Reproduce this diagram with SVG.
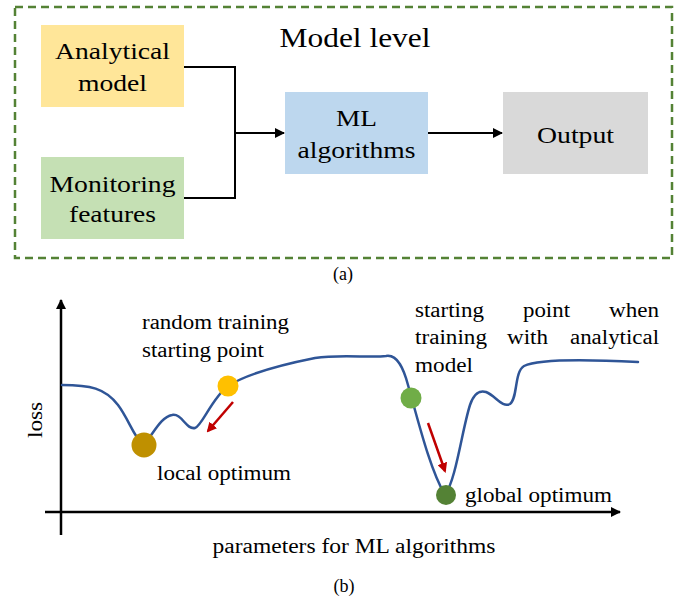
<svg xmlns="http://www.w3.org/2000/svg" width="686" height="602" viewBox="0 0 686 602">
  <style>
    text { font-family: 'Liberation Serif', Tinos, 'Nimbus Roman', 'Nimbus Roman No9 L', 'Times New Roman', Times, FreeSerif, 'Noto Serif', serif; fill: #000; }
    .box { font-size: 24px; text-anchor: middle; }
    .lbl { font-size: 20px; }
    .wire { fill: none; stroke: #000; stroke-width: 2; }
    .axis { fill: none; stroke: #000; stroke-width: 2.5; }
    .descent { fill: none; stroke: #C00000; stroke-width: 2.5; }
  </style>
  <defs>
    <marker id="arr" viewBox="0 0 10 10" refX="9" refY="5" markerWidth="5" markerHeight="5" orient="auto" markerUnits="strokeWidth">
      <path d="M0,0 L10,5 L0,10 z" fill="#000"/>
    </marker>
    <marker id="axarr" viewBox="0 0 10 10" refX="9" refY="5" markerWidth="4" markerHeight="4" orient="auto" markerUnits="strokeWidth">
      <path d="M0,0 L10,5 L0,10 z" fill="#000"/>
    </marker>
    <marker id="redarr" viewBox="0 0 10 10" refX="8" refY="5" markerWidth="4" markerHeight="4" orient="auto" markerUnits="strokeWidth">
      <path d="M0,0 L10,5 L0,10 z" fill="#C00000"/>
    </marker>
  </defs>

  <!-- (a) model-level pipeline -->
  <rect x="15" y="7" width="657" height="251" fill="none" stroke="#548235" stroke-width="2.5" stroke-dasharray="8 5"/>
  <text x="355" y="47" font-size="27" text-anchor="middle" textLength="151" lengthAdjust="spacingAndGlyphs">Model level</text>

  <g id="analytical-model">
    <rect x="41" y="25" width="143" height="82" fill="#FFE699"/>
    <text class="box" x="112.5" y="59" textLength="115" lengthAdjust="spacingAndGlyphs">Analytical</text>
    <text class="box" x="112.5" y="91" textLength="69" lengthAdjust="spacingAndGlyphs">model</text>
  </g>
  <g id="monitoring-features">
    <rect x="41" y="157" width="143" height="82" fill="#C5E0B4"/>
    <text class="box" x="112.5" y="192" textLength="126" lengthAdjust="spacingAndGlyphs">Monitoring</text>
    <text class="box" x="112.5" y="222" textLength="87" lengthAdjust="spacingAndGlyphs">features</text>
  </g>
  <g id="ml-algorithms">
    <rect x="285" y="92" width="143" height="82" fill="#BDD7EE"/>
    <text class="box" x="356.5" y="126" textLength="41" lengthAdjust="spacingAndGlyphs">ML</text>
    <text class="box" x="356.5" y="158" textLength="118" lengthAdjust="spacingAndGlyphs">algorithms</text>
  </g>
  <g id="output">
    <rect x="503" y="92" width="145" height="82" fill="#D9D9D9"/>
    <text class="box" x="575.5" y="143" textLength="77" lengthAdjust="spacingAndGlyphs">Output</text>
  </g>

  <g id="connectors">
    <path class="wire" d="M184,67 H235 V198 H184"/>
    <path class="wire" d="M235,133 H284" marker-end="url(#arr)"/>
    <path class="wire" d="M428,133 H502" marker-end="url(#arr)"/>
  </g>

  <text x="343" y="280" font-size="18" text-anchor="middle">(a)</text>

  <!-- (b) loss landscape -->
  <g id="axes">
    <path class="axis" d="M61,535 V300" marker-end="url(#axarr)"/>
    <path class="axis" d="M45,512 H620" marker-end="url(#axarr)"/>
  </g>
  <text class="lbl" transform="translate(42,420) rotate(-90)" text-anchor="middle" textLength="36" lengthAdjust="spacingAndGlyphs">loss</text>
  <text class="lbl" x="354" y="553" text-anchor="middle" textLength="283" lengthAdjust="spacingAndGlyphs">parameters for ML algorithms</text>
  <text x="344" y="592" font-size="18" text-anchor="middle">(b)</text>

  <g id="loss-curve">
    <path fill="none" stroke="#2F5597" stroke-width="2.5" stroke-linecap="round"
      d="M62,385 C90,385 105,388 118,405 C128,418 134,437 143,445
         C152,437 160,417 172,415 C182,413 186,430 195,428
         C202,426 212,398 228,386
         C245,375 280,365 315,358 C340,354 370,358 386,356
         C398,354 404,370 408,385
         C418,420 430,470 445,495
         C456,480 462,430 470,405 C474,393 480,390 486,392
         C496,396 502,408 510,404 C518,398 514,372 524,366
         C540,358 600,360 638,362"/>
  </g>

  <g id="random-start">
    <circle cx="228" cy="386" r="10.5" fill="#FFC000"/>
    <text class="lbl" x="142" y="329" textLength="147" lengthAdjust="spacingAndGlyphs">random training</text>
    <text class="lbl" x="142" y="357" textLength="122" lengthAdjust="spacingAndGlyphs">starting point</text>
  </g>
  <g id="local-optimum">
    <circle cx="144" cy="445" r="12.5" fill="#BF9000"/>
    <text class="lbl" x="157" y="480" textLength="134" lengthAdjust="spacingAndGlyphs">local optimum</text>
  </g>
  <g id="analytical-start">
    <circle cx="411" cy="398" r="10.5" fill="#70AD47"/>
    <text class="lbl" x="415" y="317" textLength="69" lengthAdjust="spacingAndGlyphs">starting</text>
    <text class="lbl" x="523" y="317" textLength="47" lengthAdjust="spacingAndGlyphs">point</text>
    <text class="lbl" x="659" y="317" text-anchor="end" textLength="50" lengthAdjust="spacingAndGlyphs">when</text>
    <text class="lbl" x="415" y="344" textLength="72" lengthAdjust="spacingAndGlyphs">training</text>
    <text class="lbl" x="507" y="344" textLength="41" lengthAdjust="spacingAndGlyphs">with</text>
    <text class="lbl" x="659" y="344" text-anchor="end" textLength="89" lengthAdjust="spacingAndGlyphs">analytical</text>
    <text class="lbl" x="415" y="372" textLength="58" lengthAdjust="spacingAndGlyphs">model</text>
  </g>
  <g id="global-optimum">
    <circle cx="446" cy="495" r="10" fill="#548235"/>
    <text class="lbl" x="465" y="502" textLength="147" lengthAdjust="spacingAndGlyphs">global optimum</text>
  </g>

  <g id="descent-arrows">
    <path class="descent" d="M233,402 L208,431" marker-end="url(#redarr)"/>
    <path class="descent" d="M428,423 L445,471" marker-end="url(#redarr)"/>
  </g>
</svg>
